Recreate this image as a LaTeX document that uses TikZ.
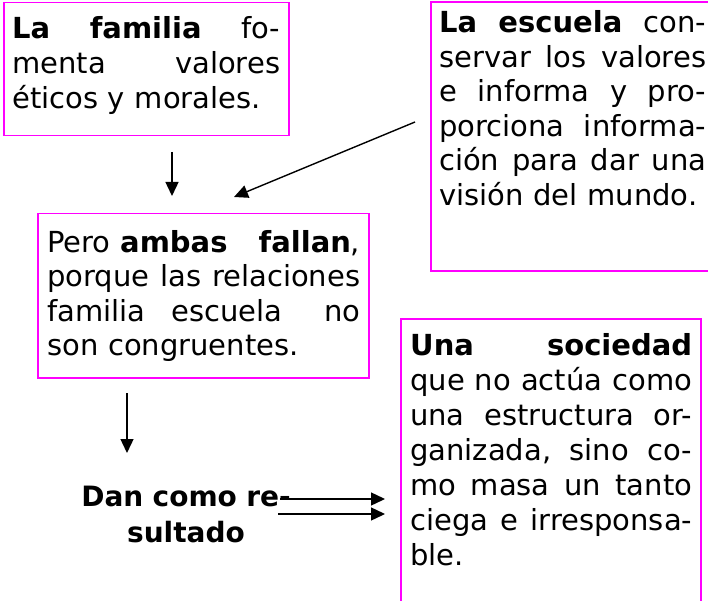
\documentclass[tikz,border=0pt]{standalone}
\usepackage{fontspec}
\setmainfont{DejaVu Sans}
\usetikzlibrary{arrows.meta}
\definecolor{boxmag}{RGB}{255,0,255}
\newcommand\txtsize{\fontsize{29pt}{34.6pt}\selectfont}
\begin{document}
\begin{tikzpicture}[x=1pt,y={(0pt,-1pt)},
  frame/.style={draw=boxmag, line width=1.5pt, inner sep=0pt},
  openframe/.style={draw=boxmag, line width=1.5pt},
  txt/.style={inner sep=0pt, align=left, font=\txtsize, anchor=base west},
  conn/.style={line width=1.4pt, -{Triangle[length=14pt,width=13pt]}}]
\useasboundingbox (0,0) rectangle (708,601);

% Box 1
\node[frame, minimum width=285pt, minimum height=133pt, anchor=north west] (f1) at (3,2) {};
\node[txt, text width=268pt] (familia) at (12,39)
  {\textbf{La}\hfill\textbf{familia}\hfill fo-\\menta\hfill valores\\éticos y morales.};

% Box 2 (open on the right)
\draw[openframe] (708,2) -| (431,271) -- (708,271);
\node[txt, text width=267pt] (escuela) at (439,32.5)
  {\textbf{La}\hfill\textbf{escuela}\hfill con-\\servar\hfill los\hfill valores\\e\hfill informa\hfill y\hfill pro-\\porciona\hfill informa-\\ción\hfill para\hfill dar\hfill una\\visión del mundo.};

% Box 3
\node[frame, minimum width=331pt, minimum height=164pt, anchor=north west] (f3) at (37,213) {};
\node[txt, text width=313pt] (ambas) at (47,252)
  {Pero \textbf{ambas}\hfill\textbf{fallan},\\porque\hfill las\hfill relaciones\\familia\hspace{0pt plus 1fill}escuela\hspace{0pt plus 1.6fill}no\\son congruentes.};

% Box 4 (open at the bottom)
\draw[openframe] (401,601) |- (701,319) -- (701,601);
\node[txt, text width=282pt, font=\fontsize{29pt}{35pt}\selectfont] (sociedad) at (410,355)
  {\textbf{Una}\hfill\textbf{sociedad}\\que\hfill no\hfill actúa\hfill como\\una\hfill estructura\hfill or-\\ganizada,\hfill sino\hfill co-\\mo\hfill masa\hfill un\hfill tanto\\ciega\hfill e\hfill irresponsa-\\ble.};

% Result text
\node[inner sep=0pt, text width=240pt, align=center, font=\bfseries\fontsize{28pt}{36pt}\selectfont, anchor=base] (dan) at (186,506)
  {Dan como re-\\sultado};

% Connectors
\coordinate (a1s) at (172,152); \coordinate (a1e) at (172,196);
\coordinate (a2s) at (415,122); \coordinate (a2e) at (234,197);
\coordinate (a3s) at (127,393); \coordinate (a3e) at (127,453);
\coordinate (a4s) at (280,499); \coordinate (a4e) at (385,499);
\coordinate (a5s) at (278,514); \coordinate (a5e) at (385,514);
\draw[conn] (a1s) -- (a1e);
\draw[conn] (a2s) -- (a2e);
\draw[conn] (a3s) -- (a3e);
\draw[conn] (a4s) -- (a4e);
\draw[conn] (a5s) -- (a5e);
\end{tikzpicture}
\end{document}
